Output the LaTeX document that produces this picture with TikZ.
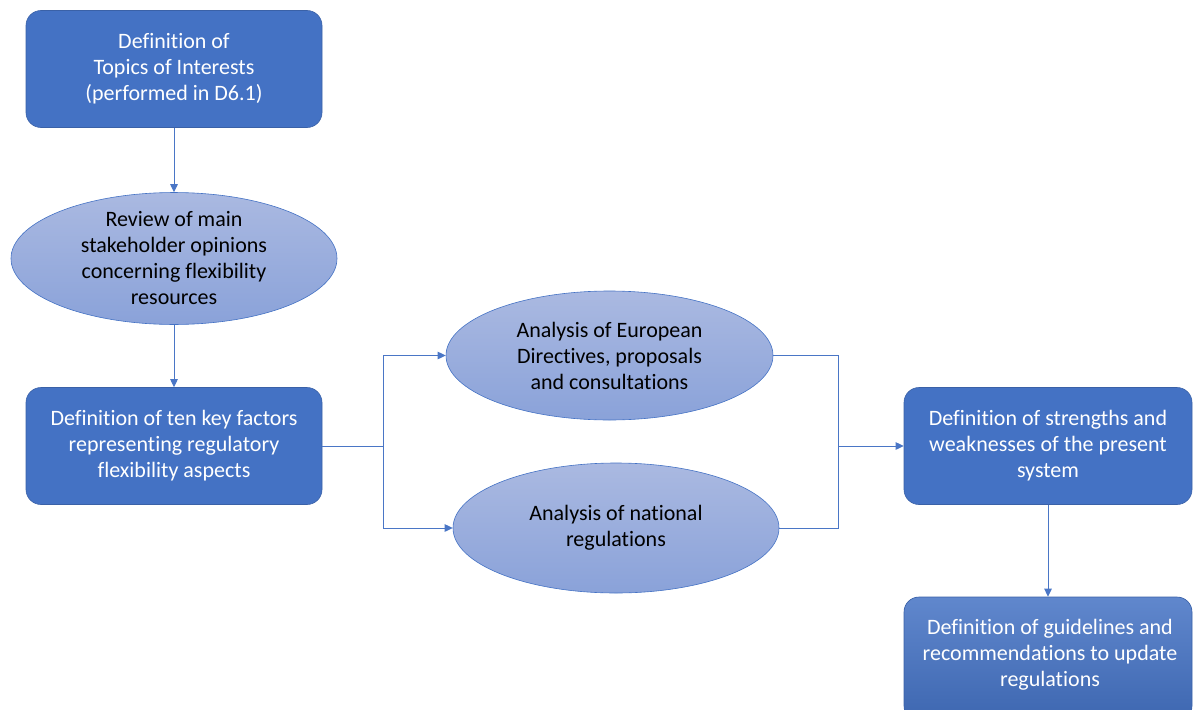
\documentclass[tikz,border=0pt]{standalone}
\usepackage{fontspec}
\setmainfont{Carlito}[Ligatures=NoCommon]
\usetikzlibrary{shapes.geometric,arrows.meta}
\definecolor{oblue}{HTML}{4472C4}
\definecolor{oblueline}{HTML}{4A76C6}
\definecolor{elltop}{HTML}{AAB9E1}
\definecolor{ellbot}{HTML}{8AA2D9}
\tikzset{
  txt/.style={font=\fontsize{22}{26}\selectfont, align=center},
  box/.style={txt, rectangle, rounded corners=15pt, draw=oblue!85!black, line width=0.6pt, fill=oblue, text=white, minimum width=296pt, minimum height=117pt, inner sep=0pt},
  gbox/.style={box, top color=oblue!85!white, bottom color=oblue!90!black, draw=oblue!85!black},
  ell/.style={txt, ellipse, draw=oblue, line width=0.6pt, top color=elltop, bottom color=ellbot, text=black, inner sep=0pt},
  conn/.style={draw=oblueline, line width=0.9pt},
  arr/.style={conn, -{Triangle[length=8pt,width=7.5pt]}},
}
\begin{document}
\begin{tikzpicture}[x=1pt,y=-1pt]
\useasboundingbox (0,0) rectangle (1193,709);
\clip (0,0) rectangle (1193,709);
\node[box] (b1) at (174,69) {Definition of\\Topics of Interests\\(performed in D6.1)};
\node[ell, minimum width=326pt, minimum height=127pt] (e1) at (174,258.5) {Review of main\\stakeholder opinions\\concerning flexibility\\resources};
\node[box] (b2) at (174,446) {Definition of ten key factors\\representing regulatory\\flexibility aspects};
\node[ell, minimum width=327pt, minimum height=129pt] (e2) at (609.5,355.5) {Analysis of European\\Directives, proposals\\and consultations};
\node[ell, minimum width=326pt, minimum height=130pt] (e3) at (616,528) {Analysis of national\\regulations};
\node[box, minimum width=288pt] (b3) at (1048,446) {Definition of strengths and\\weaknesses of the present\\system};
\node[gbox, minimum width=288pt, minimum height=124pt] (b4) at (1048,659) {};
\node[txt, text=white] (t4) at (1050,655) {Definition of guidelines and\\recommendations to update\\regulations};
\coordinate (j1) at (383,446);
\coordinate (j2) at (838,446);
\draw[arr] (b1.south) -- (e1.north);
\draw[arr] (e1.south) -- (b2.north);
\draw[conn] (b2.east) -- (j1);
\draw[arr] (j1) |- (e2.west);
\draw[arr] (j1) |- (e3.west);
\draw[conn] (e2.east) -| (j2);
\draw[conn] (e3.east) -| (j2);
\draw[arr] (j2) -- (b3.west);
\draw[arr] (b3.south) -- (b4.north);
\end{tikzpicture}
\end{document}
